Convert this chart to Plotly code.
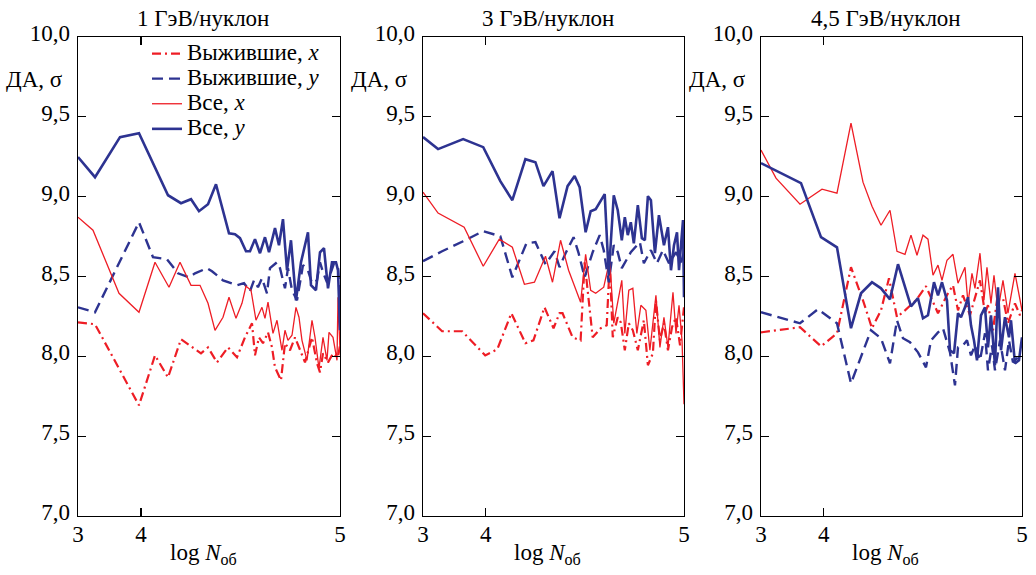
import math
import plotly.graph_objects as go

# ---------------- data ----------------
panel_titles = ["1 ГэВ/нуклон", "3 ГэВ/нуклон", "4,5 ГэВ/нуклон"]
series_names = ["Выжившие, <i>x</i>", "Выжившие, <i>y</i>", "Все, <i>x</i>", "Все, <i>y</i>"]
x_tick_logN = [3, 4, 5]
y_tick_vals = [7.0, 7.5, 8.0, 8.5, 9.0, 9.5, 10.0]
y_tick_text = ["7,0", "7,5", "8,0", "8,5", "9,0", "9,5", "10,0"]
y_label = "ДА, σ"
x_label = "log <i>N</i><sub>об</sub>"

# x values are sqrt(N/1000), the horizontal scale of the original chart
# ---- 1 GeV/nucleon ----
p1_surv_x_s = [1.00, 1.584, 3.095, 3.645, 4.092, 4.538, 5.225, 5.466, 5.775, 6.153, 6.462, 6.736, 6.977, 7.080,
               7.217, 7.355, 7.527, 7.664, 7.767, 7.973, 8.110, 8.282, 8.454, 8.626, 8.798, 9.038, 9.210, 9.313,
               9.416, 9.588, 9.760, 9.931, 10.0]
p1_surv_x_v = [8.213, 8.201, 7.693, 8.006, 7.868, 8.107, 8.019, 8.056, 7.962, 8.056, 7.994, 8.119, 8.207, 8.006,
               8.119, 8.082, 8.150, 8.056, 7.931, 7.850, 8.082, 8.038, 8.119, 8.038, 7.962, 8.119, 7.956, 7.900,
               8.019, 7.962, 8.019, 7.994, 8.069]
p1_surv_y_s = [1.00, 1.584, 3.095, 3.576, 4.057, 4.435, 4.813, 5.019, 5.431, 5.603, 5.981, 6.462, 6.702, 6.908,
               7.046, 7.183, 7.320, 7.492, 7.595, 7.836, 7.939, 8.110, 8.213, 8.351, 8.523, 8.729, 8.900, 9.038,
               9.210, 9.313, 9.416, 9.553, 9.691, 9.794, 9.931, 10.0]
p1_surv_y_v = [8.307, 8.276, 8.840, 8.621, 8.608, 8.520, 8.495, 8.520, 8.552, 8.533, 8.476, 8.445, 8.458, 8.408,
               8.476, 8.433, 8.489, 8.395, 8.552, 8.589, 8.552, 8.426, 8.552, 8.414, 8.351, 8.571, 8.539, 8.458,
               8.476, 8.589, 8.527, 8.464, 8.527, 8.583, 8.558, 8.351]
p1_all_x_s = [1.00, 1.515, 2.408, 3.095, 3.645, 4.126, 4.504, 4.882, 5.191, 5.466, 5.706, 5.981, 6.187, 6.427,
              6.633, 6.771, 6.943, 7.114, 7.320, 7.423, 7.527, 7.698, 7.836, 8.007, 8.110, 8.213, 8.351, 8.488,
              8.591, 8.694, 8.866, 9.038, 9.141, 9.278, 9.416, 9.553, 9.622, 9.760, 9.897, 9.931, 10.0]
p1_all_x_v = [8.871, 8.790, 8.395, 8.276, 8.589, 8.433, 8.589, 8.445, 8.445, 8.332, 8.163, 8.245, 8.370, 8.238,
              8.332, 8.439, 8.414, 8.226, 8.307, 8.238, 8.339, 8.144, 8.226, 8.038, 8.163, 8.100, 8.132, 8.307,
              8.245, 8.100, 7.975, 8.226, 8.119, 7.925, 8.119, 7.975, 8.150, 8.119, 7.975, 8.370, 8.038]
p1_all_y_s = [1.00, 1.584, 2.443, 3.095, 4.092, 4.538, 4.882, 5.156, 5.466, 5.740, 6.187, 6.393, 6.565, 6.771,
              6.908, 7.080, 7.252, 7.423, 7.561, 7.767, 7.904, 8.041, 8.179, 8.316, 8.488, 8.660, 8.900, 9.003,
              9.175, 9.313, 9.450, 9.588, 9.725, 9.862, 9.931, 10.0]
p1_all_y_v = [9.248, 9.122, 9.373, 9.398, 9.009, 8.959, 8.984, 8.909, 8.953, 9.078, 8.771, 8.765, 8.740, 8.658,
              8.658, 8.734, 8.646, 8.746, 8.652, 8.803, 8.696, 8.859, 8.539, 8.727, 8.351, 8.589, 8.777, 8.445,
              8.414, 8.652, 8.677, 8.426, 8.589, 8.589, 8.539, 8.163]

# ---- 3 GeV/nucleon ----
p2_surv_x_s = [1.00, 1.658, 2.350, 3.146, 3.562, 4.047, 4.531, 4.808, 5.189, 5.501, 5.708, 5.812, 6.158, 6.435,
               6.574, 6.851, 7.128, 7.335, 7.439, 7.543, 7.716, 7.820, 7.959, 8.097, 8.236, 8.408, 8.616, 8.755,
               8.928, 9.032, 9.170, 9.309, 9.447, 9.586, 9.724, 9.863, 10.0]
p2_surv_x_v = [8.270, 8.157, 8.157, 8.006, 8.044, 8.270, 8.082, 8.100, 8.307, 8.176, 8.270, 8.270, 8.119, 8.100,
               8.589, 8.119, 8.176, 8.194, 8.589, 8.119, 8.245, 8.213, 8.038, 8.207, 8.163, 8.038, 8.226, 7.944,
               8.019, 8.351, 8.100, 8.207, 8.038, 8.182, 8.245, 8.069, 8.307]
p2_surv_y_s = [1.00, 1.658, 2.385, 3.077, 3.666, 4.081, 4.566, 4.877, 5.224, 5.535, 5.708, 5.916, 6.193, 6.366,
               6.574, 6.851, 7.093, 7.232, 7.405, 7.578, 7.716, 7.855, 8.166, 8.478, 8.616, 8.859, 9.066, 9.274,
               9.482, 9.724, 9.897, 10.0]
p2_surv_y_v = [8.596, 8.658, 8.721, 8.784, 8.752, 8.495, 8.708, 8.715, 8.577, 8.658, 8.558, 8.646, 8.746, 8.646,
               8.495, 8.652, 8.759, 8.665, 8.464, 8.696, 8.652, 8.552, 8.652, 8.715, 8.583, 8.665, 8.583, 8.665,
               8.583, 8.652, 8.589, 8.652]
p2_all_x_s = [1.00, 1.519, 2.419, 3.077, 3.631, 4.081, 4.497, 4.843, 5.224, 5.466, 5.743, 6.020, 6.435, 6.608,
              6.782, 6.955, 7.232, 7.439, 7.578, 7.716, 7.855, 7.959, 8.097, 8.236, 8.374, 8.513, 8.686, 8.824,
              9.032, 9.170, 9.309, 9.447, 9.620, 9.724, 9.828, 9.932, 10.0]
p2_all_x_v = [9.028, 8.897, 8.809, 8.564, 8.734, 8.683, 8.451, 8.464, 8.627, 8.464, 8.727, 8.539, 8.339, 8.639,
              8.414, 8.395, 8.433, 8.602, 8.207, 8.351, 8.476, 8.144, 8.414, 8.426, 8.144, 8.320, 8.288, 8.038,
              8.382, 8.056, 8.245, 8.056, 8.401, 8.144, 8.320, 8.100, 7.700]
p2_all_y_s = [1.00, 1.519, 2.385, 3.077, 3.666, 4.081, 4.531, 4.877, 5.154, 5.466, 5.708, 5.985, 6.228, 6.401,
              6.608, 6.782, 6.955, 7.266, 7.405, 7.578, 7.716, 7.855, 7.959, 8.062, 8.166, 8.270, 8.408, 8.547,
              8.651, 8.755, 8.859, 8.997, 9.136, 9.309, 9.447, 9.551, 9.655, 9.759, 9.828, 9.897, 9.966, 10.0]
p2_all_y_v = [9.373, 9.298, 9.361, 9.310, 9.097, 8.978, 9.235, 9.216, 9.066, 9.160, 8.865, 9.066, 9.129, 9.060,
              8.777, 8.909, 8.922, 9.016, 8.508, 9.009, 8.915, 8.727, 8.871, 8.759, 8.840, 8.708, 8.947, 8.740,
              8.727, 9.003, 8.978, 8.646, 8.884, 8.696, 8.809, 8.539, 8.696, 8.777, 8.539, 8.696, 8.853, 8.370]

# ---- 4,5 GeV/nucleon ----
p3_surv_x_s = [1.00, 2.345, 3.069, 3.620, 4.103, 4.517, 4.827, 5.138, 5.413, 5.689, 5.965, 6.344, 6.689, 6.896,
               7.103, 7.448, 7.620, 7.793, 7.965, 8.206, 8.379, 8.551, 8.724, 8.827, 8.999, 9.137, 9.344, 9.517,
               9.758, 9.930, 10.0]
p3_surv_x_v = [8.150, 8.182, 8.063, 8.144, 8.558, 8.351, 8.176, 8.288, 8.489, 8.245, 8.288, 8.351, 8.439, 8.351,
               8.270, 8.395, 8.445, 8.288, 8.382, 8.257, 8.364, 8.476, 8.270, 8.320, 8.163, 8.351, 8.364, 8.207,
               8.332, 8.257, 8.288]
p3_surv_y_s = [1.00, 2.345, 2.965, 3.620, 4.103, 4.793, 5.138, 5.448, 5.689, 5.896, 6.138, 6.413, 6.689, 6.862,
               7.103, 7.275, 7.517, 7.689, 7.793, 7.965, 8.103, 8.241, 8.379, 8.551, 8.724, 8.827, 8.965, 9.068,
               9.241, 9.413, 9.551, 9.689, 9.862, 10.0]
p3_surv_y_v = [8.276, 8.207, 8.295, 8.207, 7.831, 8.163, 8.113, 7.956, 8.226, 8.113, 8.088, 8.025, 7.931, 8.100,
               8.150, 8.176, 8.025, 7.818, 8.056, 8.069, 8.100, 8.006, 8.069, 7.975, 8.144, 7.912, 8.069, 7.912,
               8.100, 7.912, 8.100, 7.962, 7.994, 8.019]
p3_all_x_s = [1.00, 1.517, 2.345, 3.103, 3.620, 4.103, 4.517, 4.827, 5.138, 5.448, 5.689, 5.965, 6.172, 6.379,
              6.586, 6.758, 6.931, 7.103, 7.241, 7.413, 7.620, 7.793, 8.034, 8.137, 8.275, 8.379, 8.551, 8.689,
              8.792, 8.930, 9.034, 9.172, 9.344, 9.517, 9.758, 9.930, 10.0]
p3_all_x_v = [9.292, 9.116, 8.953, 9.047, 9.022, 9.461, 9.091, 8.940, 8.821, 8.915, 8.658, 8.639, 8.759, 8.633,
              8.759, 8.734, 8.508, 8.571, 8.476, 8.602, 8.639, 8.458, 8.558, 8.332, 8.520, 8.426, 8.646, 8.351,
              8.558, 8.332, 8.508, 8.288, 8.476, 8.270, 8.520, 8.351, 8.288]
p3_all_y_s = [1.00, 2.379, 3.069, 3.620, 4.103, 4.448, 4.827, 5.138, 5.448, 5.724, 6.172, 6.413, 6.586, 6.758,
              6.965, 7.103, 7.241, 7.413, 7.517, 7.655, 7.793, 7.896, 8.034, 8.137, 8.241, 8.344, 8.448, 8.586,
              8.724, 8.827, 8.930, 9.068, 9.172, 9.275, 9.413, 9.551, 9.620, 9.758, 9.896, 10.0]
p3_all_y_v = [9.210, 9.085, 8.746, 8.683, 8.176, 8.395, 8.464, 8.426, 8.357, 8.577, 8.313, 8.364, 8.238, 8.257,
              8.464, 8.382, 8.464, 8.351, 8.038, 8.019, 8.270, 8.245, 8.307, 8.370, 8.194, 8.100, 7.975, 8.257,
              8.307, 8.056, 8.257, 7.944, 8.433, 8.038, 8.245, 8.119, 8.226, 7.956, 7.975, 8.119]

panels = [
    [(p1_surv_x_s, p1_surv_x_v), (p1_surv_y_s, p1_surv_y_v), (p1_all_x_s, p1_all_x_v), (p1_all_y_s, p1_all_y_v)],
    [(p2_surv_x_s, p2_surv_x_v), (p2_surv_y_s, p2_surv_y_v), (p2_all_x_s, p2_all_x_v), (p2_all_y_s, p2_all_y_v)],
    [(p3_surv_x_s, p3_surv_x_v), (p3_surv_y_s, p3_surv_y_v), (p3_all_x_s, p3_all_x_v), (p3_all_y_s, p3_all_y_v)],
]

# ---------------- styling ----------------
RED = "#EE1D25"
BLUE = "#2D3391"
styles = [
    dict(color=RED, width=2.2, dash="9px,4px,2px,4px"),
    dict(color=BLUE, width=2.4, dash="11px,6px"),
    dict(color=RED, width=1.3, dash="solid"),
    dict(color=BLUE, width=2.6, dash="solid"),
]
FONT = "Liberation Serif"
W, H = 1036, 575
x_doms = [(78 / W, 340 / W), (423 / W, 684 / W), (761 / W, 1022 / W)]
y_dom = (1 - 516 / H, 1 - 37 / H)

x_tick_vals = [10 ** ((v - 3) / 2) for v in x_tick_logN]
x_tick_text = [str(v) for v in x_tick_logN]

fig = go.Figure()
for p, series in enumerate(panels):
    xa = "x" if p == 0 else f"x{p + 1}"
    ya = "y" if p == 0 else f"y{p + 1}"
    for k in range(4):
        xs, vs = series[k]
        fig.add_trace(go.Scatter(
            x=xs, y=vs, mode="lines",
            name=f'<span style="font-size:23px">{series_names[k]}</span>',
            line=styles[k], xaxis=xa, yaxis=ya,
            showlegend=(p == 0), legendrank=k,
        ))

axis_common = dict(
    showline=True, linecolor="black", linewidth=1.4, mirror="ticks",
    ticks="inside", ticklen=8, tickwidth=1.3, tickcolor="black",
    showgrid=False, zeroline=False, automargin=False,
    tickfont=dict(family=FONT, size=23, color="black"),
)
layout = dict(
    width=W, height=H, margin=dict(l=0, r=0, t=0, b=0, pad=0, autoexpand=False),
    paper_bgcolor="white", plot_bgcolor="white",
    font=dict(family=FONT, size=23, color="black"),
    showlegend=True,
    legend=dict(x=147 / W, y=1 - 36 / H, xanchor="left", yanchor="top",
                bgcolor="rgba(0,0,0,0)", font=dict(family=FONT, size=17, color="black"),
                traceorder="normal", itemwidth=30, tracegroupgap=0),
)
annotations = []
for p in range(3):
    xk = "xaxis" if p == 0 else f"xaxis{p + 1}"
    yk = "yaxis" if p == 0 else f"yaxis{p + 1}"
    layout[xk] = dict(axis_common, domain=list(x_doms[p]), range=[x_tick_vals[0], x_tick_vals[-1]],
                      tickvals=x_tick_vals, ticktext=x_tick_text, ticklabelstandoff=-3,
                      anchor="y" if p == 0 else f"y{p + 1}")
    layout[yk] = dict(axis_common, domain=list(y_dom), range=[7.0, 10.0],
                      tickvals=y_tick_vals, ticktext=y_tick_text, ticklabelstandoff=2,
                      ticklabelshift=-4,
                      anchor="x" if p == 0 else f"x{p + 1}")
    cx = (x_doms[p][0] + x_doms[p][1]) / 2
    annotations.append(dict(text=panel_titles[p], x=cx - 6 / W, y=1 - 19 / H, xref="paper", yref="paper",
                            xanchor="center", yanchor="middle", showarrow=False,
                            font=dict(family=FONT, size=23, color="black")))
    annotations.append(dict(text=x_label, x=cx - 6 / W, y=1 - 554 / H, xref="paper", yref="paper",
                            xanchor="center", yanchor="middle", showarrow=False,
                            font=dict(family=FONT, size=23, color="black")))
    annotations.append(dict(text=y_label, x=x_doms[p][0] - 13 / W, y=1 - 79 / H, xref="paper", yref="paper",
                            xanchor="right", yanchor="middle", showarrow=False,
                            font=dict(family=FONT, size=23, color="black")))
layout["annotations"] = annotations
fig.update_layout(**layout)
fig.write_html("out.html", config={"displayModeBar": False, "staticPlot": True},
               post_script="document.body.style.margin='0';document.body.style.overflow='hidden';")
